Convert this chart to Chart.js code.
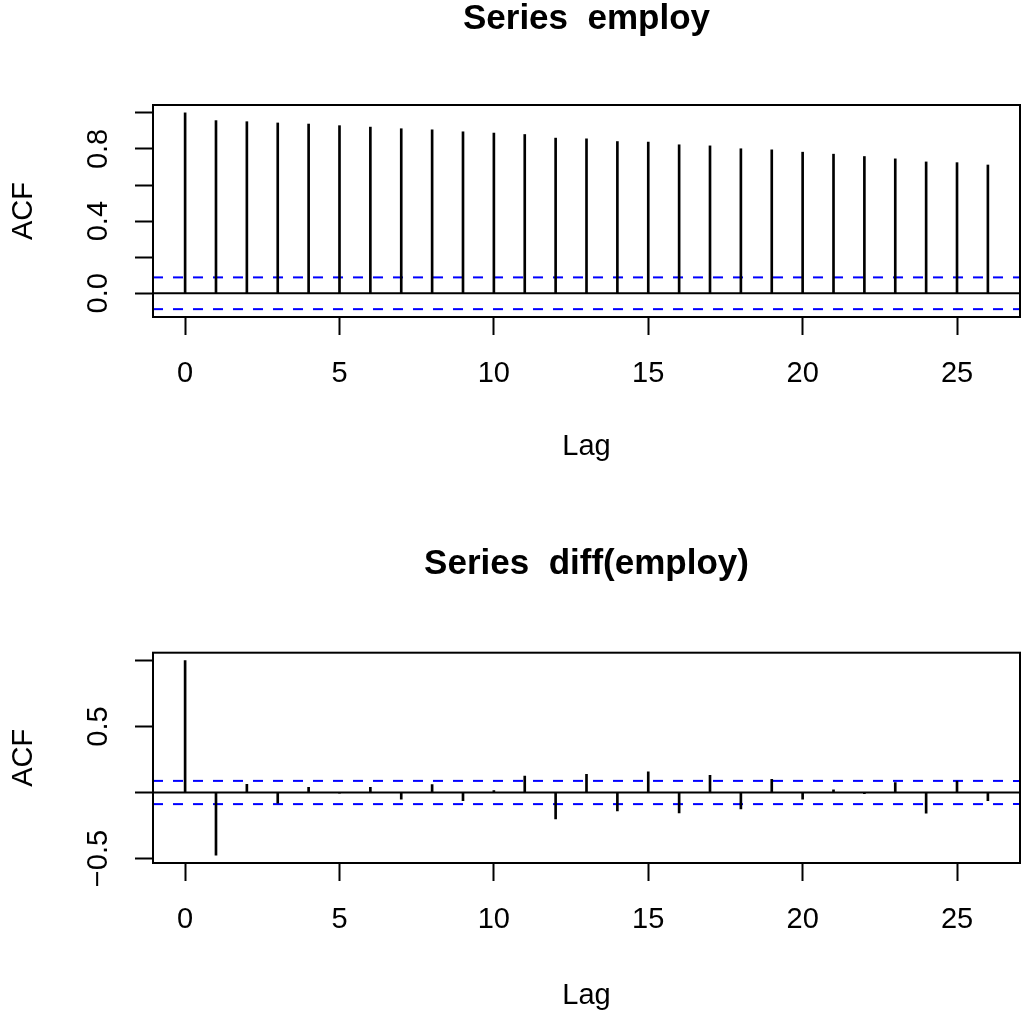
<!DOCTYPE html>
<html>
<head>
<meta charset="utf-8">
<script src="https://cdn.jsdelivr.net/npm/chart.js@4.4.1/dist/chart.umd.min.js"></script>
<style>
    html, body { margin: 0; padding: 0; background: #fff; }
    canvas { position: absolute; left: 0; }
    #top { top: 0; }
    #bottom { top: 506px; }
</style>
</head>
<body>
<canvas id="top" width="1022" height="506"></canvas>
<canvas id="bottom" width="1022" height="507"></canvas>
<script>
// lags shown in both panels
var lags = [0, 1, 2, 3, 4, 5, 6, 7, 8, 9, 10, 11, 12, 13, 14, 15, 16, 17, 18, 19, 20, 21, 22, 23, 24, 25, 26];
var xTickValues = [0, 5, 10, 15, 20, 25];
var xTickLabels = ['0', '5', '10', '15', '20', '25'];

// acf of employ
var acfEmploy = [1.0, 0.957, 0.951, 0.944, 0.938, 0.929, 0.921, 0.912, 0.906, 0.895, 0.888, 0.880, 0.860,
    0.856, 0.841, 0.838, 0.823, 0.817, 0.801, 0.795, 0.782, 0.771, 0.758, 0.745, 0.728, 0.724, 0.711];
var climEmploy = 0.088;
var yTicksEmploy = [0, 0.2, 0.4, 0.6, 0.8, 1.0];
var yLabelsEmploy = ['0.0', '', '0.4', '', '0.8', ''];

// acf of diff(employ)
var acfDiff = [1.0, -0.475, 0.062, -0.080, 0.040, -0.005, 0.040, -0.050, 0.060, -0.062, 0.015, 0.125, -0.200,
    0.137, -0.140, 0.157, -0.155, 0.130, -0.125, 0.100, -0.050, 0.020, -0.008, 0.075, -0.157, 0.087, -0.062];
var climDiff = 0.088;
var yTicksDiff = [-0.5, 0, 0.5, 1.0];
var yLabelsDiff = ['\u22120.5', '', '0.5', ''];

var FONT = "'Liberation Sans', Arial, Helvetica, sans-serif";
var PLOT_LEFT = 153;
var TICK_LEN = 18;
var YLABEL_CENTER = 98.8;

function textWidth(labels) {
    var ctx = document.createElement('canvas').getContext('2d');
    ctx.font = '29px ' + FONT;
    var w = 0;
    for (var i = 0; i < labels.length; i++) {
        w = Math.max(w, ctx.measureText(labels[i]).width);
    }
    return w;
}

var boxPlugin = {
    id: 'box',
    afterDatasetsDraw: function (chart) {
        var a = chart.chartArea;
        var ctx = chart.ctx;
        ctx.save();
        ctx.strokeStyle = '#000';
        ctx.lineWidth = 2;
        ctx.strokeRect(a.left, a.top, a.right - a.left, a.bottom - a.top);
        ctx.restore();
    }
};

function acfChart(id, titleText, values, clim, yTickValues, yTickLabels, box) {
    var canvas = document.getElementById(id);
    var H = canvas.height;
    var xPad = 0.04 * (lags[lags.length - 1] - lags[0]);
    var xMin = lags[0] - xPad;
    var xMax = lags[lags.length - 1] + xPad;
    var lo = Math.min.apply(null, values.concat([-clim]));
    var hi = Math.max.apply(null, values.concat([clim]));
    var yPad = 0.04 * (hi - lo);
    var labelPad = PLOT_LEFT - TICK_LEN - YLABEL_CENTER - textWidth(yTickLabels) / 2;

    var puntos = [];
    for (var i = 0; i < lags.length; i++) {
        puntos.push({ x: lags[i], y: values[i] });
    }

    return new Chart(canvas.getContext('2d'), {
        type: 'bar',
        data: {
            datasets: [{
                type: 'bar',
                data: puntos,
                backgroundColor: '#000',
                borderWidth: 0,
                barThickness: 2
            }, {
                type: 'line',
                data: [{ x: xMin, y: 0 }, { x: xMax, y: 0 }],
                borderColor: '#000',
                borderWidth: 2,
                pointRadius: 0
            }, {
                type: 'line',
                data: [{ x: xMin, y: clim }, { x: xMax, y: clim }],
                borderColor: '#0000ff',
                borderWidth: 2,
                borderDash: [10, 10],
                pointRadius: 0
            }, {
                type: 'line',
                data: [{ x: xMin, y: -clim }, { x: xMax, y: -clim }],
                borderColor: '#0000ff',
                borderWidth: 2,
                borderDash: [10, 10],
                pointRadius: 0
            }]
        },
        options: {
            responsive: false,
            animation: false,
            devicePixelRatio: 1,
            layout: { padding: { left: 0, right: 2, top: 0, bottom: 0 } },
            plugins: {
                legend: { display: false },
                tooltip: { enabled: false },
                title: {
                    display: true,
                    fullSize: false,
                    text: titleText,
                    color: '#000',
                    font: { family: FONT, size: 35, weight: 'bold', lineHeight: 1 },
                    padding: { top: box.titleTop, bottom: box.top - box.titleTop - 35 }
                }
            },
            scales: {
                x: {
                    type: 'linear',
                    min: xMin,
                    max: xMax,
                    offset: false,
                    afterBuildTicks: function (s) {
                        s.ticks = xTickValues.map(function (v) { return { value: v }; });
                    },
                    afterFit: function (s) { s.height = H - box.bottom; },
                    grid: { drawOnChartArea: false, drawTicks: true, tickLength: TICK_LEN, tickWidth: 2, tickColor: '#000', offset: false },
                    border: { display: false },
                    ticks: {
                        color: '#000',
                        font: { family: FONT, size: 29, lineHeight: 1 },
                        padding: 24,
                        maxRotation: 0,
                        autoSkip: false,
                        callback: function (v) { return xTickLabels[xTickValues.indexOf(v)]; }
                    },
                    title: {
                        display: true,
                        text: 'Lag',
                        color: '#000',
                        font: { family: FONT, size: 29, lineHeight: 1.2 },
                        padding: { top: 0, bottom: box.lagPad }
                    }
                },
                y: {
                    type: 'linear',
                    min: lo - yPad,
                    max: hi + yPad,
                    afterBuildTicks: function (s) {
                        s.ticks = yTickValues.map(function (v) { return { value: v }; });
                    },
                    afterFit: function (s) { s.width = PLOT_LEFT; },
                    grid: { drawOnChartArea: false, drawTicks: true, tickLength: TICK_LEN, tickWidth: 2, tickColor: '#000' },
                    border: { display: false },
                    ticks: {
                        color: '#000',
                        font: { family: FONT, size: 29, lineHeight: 1.2 },
                        minRotation: 90,
                        maxRotation: 90,
                        crossAlign: 'center',
                        padding: labelPad,
                        autoSkip: false,
                        callback: function (v) { return yTickLabels[yTickValues.indexOf(v)]; }
                    },
                    title: {
                        display: true,
                        text: 'ACF',
                        color: '#000',
                        font: { family: FONT, size: 29, lineHeight: 1.2 },
                        padding: { top: 6.6, bottom: 0 }
                    }
                }
            }
        },
        plugins: [boxPlugin]
    });
}

acfChart('top', 'Series  employ', acfEmploy, climEmploy, yTicksEmploy, yLabelsEmploy,
    { titleTop: 2.1, top: 105, bottom: 317, lagPad: 41.6 });
acfChart('bottom', 'Series  diff(employ)', acfDiff, climDiff, yTicksDiff, yLabelsDiff,
    { titleTop: 40.4, top: 146.7, bottom: 357, lagPad: 0 });
</script>
</body>
</html>
